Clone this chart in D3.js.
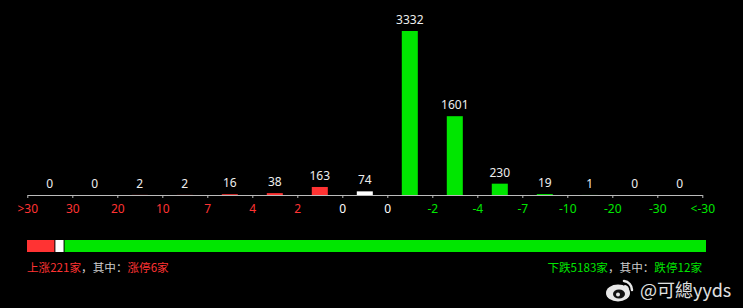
<!DOCTYPE html>
<html>
<head>
<meta charset="utf-8" />
<title>涨跌分布</title>
<script src="https://d3js.org/d3.v7.min.js"></script>
<style>
  body { margin: 0; background: #000; }
  svg { display: block; }
  text { font-family: "Noto Sans", "DejaVu Sans", sans-serif; }
  .cn { font-family: "Noto Sans CJK SC", sans-serif; font-size: 11.6px; }
</style>
</head>
<body>
<div id="chart"></div>
<script>
// data
const bins = [">30~30", "30~20", "20~10", "10~7", "7~4", "4~2", "2~0", "0", "0~-2", "-2~-4", "-4~-7", "-7~-10", "-10~-20", "-20~-30", "-30~<-30"];
const counts = [0, 0, 2, 2, 16, 38, 163, 74, 3332, 1601, 230, 19, 1, 0, 0];
const tickLabels = [">30", "30", "20", "10", "7", "4", "2", "0", "0", "-2", "-4", "-7", "-10", "-20", "-30", "<-30"];
const upCount = 221, flatCount = 74, downCount = 5183;
const limitUp = 6, limitDown = 12;

const RED = "#ff3333", GREEN = "#00e600", WHITE = "#ffffff";
const width = 743, height = 308;

const svg = d3.select("#chart").append("svg")
    .attr("width", width)
    .attr("height", height)
    .style("background", "#000");

const left = 27.3, right = 702.3, baseY = 195, topY = 31;

const x = d3.scaleBand()
    .domain(d3.range(bins.length))
    .range([left, right])
    .paddingInner(0.644)
    .paddingOuter(0.322);

const xEdge = d3.scaleLinear().domain([0, bins.length]).range([left, right]);

const y = d3.scaleLinear().domain([0, d3.max(counts)]).range([baseY, topY]);

const barColor = i => i < 7 ? RED : (i === 7 ? WHITE : GREEN);
const tickColor = i => i < 7 ? RED : (i <= 8 ? WHITE : GREEN);

// bars
svg.append("g")
  .selectAll("rect")
  .data(counts)
  .join("rect")
    .attr("x", (d, i) => x(i))
    .attr("y", d => y(d))
    .attr("width", x.bandwidth())
    .attr("height", d => baseY - y(d))
    .attr("fill", (d, i) => barColor(i));

// value labels
svg.append("g")
  .selectAll("text")
  .data(counts)
  .join("text")
    .attr("x", (d, i) => x(i) + x.bandwidth() / 2)
    .attr("y", d => y(d) - 7)
    .attr("text-anchor", "middle")
    .attr("fill", "#eeeeee")
    .style("font-size", "12px")
    .text(d => d);

// axis
const axis = d3.axisBottom(xEdge)
    .tickValues(d3.range(tickLabels.length))
    .tickFormat(i => tickLabels[i])
    .tickSize(3)
    .tickSizeOuter(0);

const gx = svg.append("g")
    .attr("transform", `translate(0,${baseY})`)
    .call(axis);
gx.select(".domain").attr("stroke", "#bbbbbb");
gx.selectAll(".tick line").attr("stroke", "#bbbbbb");
gx.selectAll(".tick text")
    .attr("y", 9)
    .attr("fill", (d, i) => tickColor(i))
    .style("font-size", "12px")
    .style("font-family", "'Noto Sans', sans-serif");

// breadth bar
const total = upCount + flatCount + downCount;
const bx = d3.scaleLinear().domain([0, total]).range([27, 706]);
const segs = [
  { v0: 0, v1: upCount, c: RED },
  { v0: upCount, v1: upCount + flatCount, c: WHITE },
  { v0: upCount + flatCount, v1: total, c: GREEN }
];
svg.append("g")
  .selectAll("rect")
  .data(segs)
  .join("rect")
    .attr("x", (d, i) => bx(d.v0) + (i ? 1 : 0))
    .attr("y", 240)
    .attr("width", (d, i) => bx(d.v1) - bx(d.v0) - (i ? 1 : 0))
    .attr("height", 12)
    .attr("fill", d => d.c);

// captions
const lt = svg.append("text").attr("class", "cn").attr("x", 27).attr("y", 272);
lt.append("tspan").attr("fill", RED).text(`上涨${upCount}家`);
lt.append("tspan").attr("fill", "#cccccc").text("，其中：");
lt.append("tspan").attr("fill", RED).text(`涨停${limitUp}家`);

const rt = svg.append("text").attr("class", "cn").attr("x", 702).attr("y", 272).attr("text-anchor", "end");
rt.append("tspan").attr("fill", GREEN).text(`下跌${downCount}家`);
rt.append("tspan").attr("fill", "#cccccc").text("，其中：");
rt.append("tspan").attr("fill", GREEN).text(`跌停${limitDown}家`);

// watermark
const wm = svg.append("g").attr("transform", "translate(618,293)");
wm.append("ellipse").attr("rx", 12).attr("ry", 8.5).attr("fill", "#e8e8e8");
wm.append("ellipse").attr("cx", 1).attr("cy", 1).attr("rx", 6).attr("ry", 4.5).attr("fill", "#111");
wm.append("circle").attr("cx", 0).attr("cy", 1.5).attr("r", 2).attr("fill", "#e8e8e8");
wm.append("path").attr("d", "M6,-12 A9,9 0 0 1 14,-3").attr("fill", "none").attr("stroke", "#e8e8e8").attr("stroke-width", 2.5).attr("stroke-linecap", "round");
wm.append("path").attr("d", "M7,-7 A4,4 0 0 1 10,-3").attr("fill", "none").attr("stroke", "#e8e8e8").attr("stroke-width", 2).attr("stroke-linecap", "round");
svg.append("text")
    .attr("x", 640).attr("y", 297)
    .attr("fill", "#e0e0e0")
    .style("font-size", "18px")
    .style("font-family", "'Noto Sans CJK SC', sans-serif")
    .text("@可總yyds");
</script>
</body>
</html>
